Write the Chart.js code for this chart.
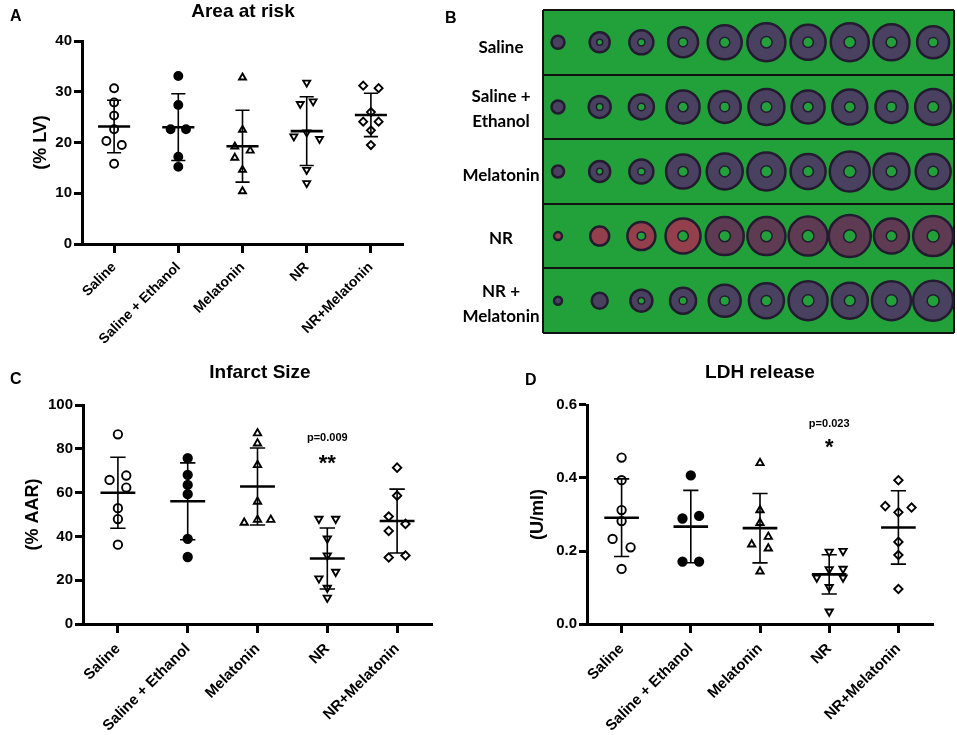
<!DOCTYPE html>
<html>
<head>
<title>Area at risk, infarct size and LDH release</title>
<script src="https://cdn.jsdelivr.net/npm/chart.js"></script>
<style>
  body { margin: 0; background: #fff; font-family: "Liberation Sans", Arial, sans-serif; }
  #page { position: relative; width: 957px; height: 735px; overflow: hidden; }
  .abs { position: absolute; color: #000; z-index: 2; }
  .letter { font-weight: bold; font-size: 16px; line-height: 16px; }
  .title { font-weight: bold; font-size: 19px; line-height: 19px; text-align: center; width: 240px; }
  .rowlab { font-family: Lato, "Liberation Sans", sans-serif; font-weight: bold; font-size: 17px;
            line-height: 25px; text-align: center; width: 96px; left: 453px; }
  canvas { position: absolute; }
</style>
</head>
<body>
<div id="page">
  <div class="abs letter" style="left:10px;top:8px">A</div>
  <div class="abs letter" style="left:445px;top:10px">B</div>
  <div class="abs letter" style="left:10px;top:371px">C</div>
  <div class="abs letter" style="left:525px;top:372px">D</div>

  <div class="abs title" style="left:123px;top:1px">Area at risk</div>
  <div class="abs title" style="left:140px;top:362px">Infarct Size</div>
  <div class="abs title" style="left:640px;top:362px">LDH release</div>

  <div class="abs rowlab" style="top:34px">Saline</div>
  <div class="abs rowlab" style="top:83px">Saline +<br>Ethanol</div>
  <div class="abs rowlab" style="top:162px">Melatonin</div>
  <div class="abs rowlab" style="top:225px">NR</div>
  <div class="abs rowlab" style="top:278px">NR +<br>Melatonin</div>

  <canvas id="chartA" width="420" height="350" style="left:0;top:0"></canvas>
  <canvas id="chartB" width="413" height="325" style="left:542px;top:9px"></canvas>
  <canvas id="chartC" width="450" height="375" style="left:0;top:360px"></canvas>
  <canvas id="chartD" width="450" height="375" style="left:500px;top:360px"></canvas>
</div>

<script>
  // ---------------- data ----------------
  var groups = ["Saline", "Saline + Ethanol", "Melatonin", "NR", "NR+Melatonin"];

  // A - area at risk (% LV)
  var aarSaline = [30.7, 27.9, 25.3, 22.6, 20.3, 19.5, 15.8];
  var aarSalineEth = [33.1, 27.4, 22.6, 22.6, 17.2, 15.2];
  var aarMel = [32.8, 22.5, 19.2, 18.4, 17.0, 14.6, 10.4];
  var aarNR = [31.8, 27.6, 28.1, 22.0, 21.2, 20.7, 14.6, 12.0];
  var aarNRMel = [31.2, 30.7, 26.0, 24.1, 24.1, 22.4, 19.5];
  // horizontal scatter of the dots, in category units
  var aarJitter = [
    [0, 0, 0, 0, -0.12, 0.12, 0],
    [0, 0, -0.12, 0.12, 0, 0],
    [0, 0, -0.12, 0.12, -0.12, 0, 0],
    [0, -0.1, 0.1, 0, -0.2, 0.2, 0, 0],
    [-0.12, 0.12, 0, -0.12, 0.12, 0, 0],
  ];

  // C - infarct size (% AAR)
  var isSaline = [86.6, 67.8, 65.8, 62.3, 52.9, 47.9, 36.2];
  var isSalineEth = [75.7, 68.1, 63.5, 59.3, 38.9, 30.6];
  var isMel = [87.1, 82.5, 72.6, 55.9, 47.6, 46.3, 47.6];
  var isNR = [48.0, 48.0, 39.0, 31.3, 23.8, 20.8, 16.5, 12.0];
  var isNRMel = [71.4, 58.6, 49.1, 45.7, 42.5, 31.3, 30.4];
  var isJitter = [
    [0, 0.12, -0.12, 0.12, 0, 0, 0],
    [0, 0, 0, 0, 0, 0],
    [0, 0, 0, 0, 0, -0.19, 0.19],
    [-0.12, 0.12, 0, 0, 0.12, -0.12, 0, 0],
    [0, 0, -0.12, 0.12, -0.12, 0.12, -0.12],
  ];
  var isNotes = [
    { text: "p=0.009", y: 85, kind: "p" },
    { text: "**", y: 73, kind: "star" },
  ];

  // D - LDH release (U/ml)
  var ldhSaline = [0.456, 0.394, 0.312, 0.282, 0.233, 0.21, 0.151];
  var ldhSalineEth = [0.407, 0.289, 0.296, 0.171, 0.171];
  var ldhMel = [0.441, 0.312, 0.277, 0.239, 0.218, 0.207, 0.144];
  var ldhNR = [0.2, 0.198, 0.151, 0.15, 0.127, 0.127, 0.101, 0.034];
  var ldhNRMel = [0.394, 0.323, 0.319, 0.306, 0.225, 0.189, 0.096];
  var ldhJitter = [
    [0, 0, 0, 0, -0.13, 0.13, 0],
    [0, -0.12, 0.12, -0.12, 0.12],
    [0, 0, 0, 0.12, -0.12, 0.12, 0],
    [0.2, 0, 0.2, 0, -0.18, 0.2, 0, 0],
    [0, -0.19, 0.19, 0, 0, 0, 0],
  ];
  var ldhNotes = [
    { text: "p=0.023", y: 0.548, kind: "p" },
    { text: "*", y: 0.481, kind: "star" },
  ];

  // B - heart slices, 10 per row (radius of each slice as photographed)
  var sliceRows = ["Saline", "Saline + Ethanol", "Melatonin", "NR", "NR + Melatonin"];
  var sliceIndex = [1, 2, 3, 4, 5, 6, 7, 8, 9, 10];
  var sliceRadius = [
    [6.5, 10, 12, 15, 17, 19, 17.5, 19, 18, 16],
    [6.5, 11, 12.5, 16.5, 16, 18, 16.5, 17.5, 16, 18],
    [6, 10.5, 12, 17, 18, 19, 17.5, 20, 18, 17.5],
    [4, 9.5, 14, 17.5, 19, 19, 19.5, 21, 17.5, 20],
    [4, 8, 11, 13, 16, 17.5, 19.5, 18, 19.5, 20],
  ];

  // ---------------- shared dot-plot builder ----------------
  Chart.defaults.font.family = '"Liberation Sans", Arial, sans-serif';
  Chart.defaults.color = "#000";

  var markerStyles = [
    { pointStyle: "circle", rotation: 0, fill: "#fff" },
    { pointStyle: "circle", rotation: 0, fill: "#000" },
    { pointStyle: "triangle", rotation: 0, fill: "#fff" },
    { pointStyle: "triangle", rotation: 180, fill: "#fff" },
    { pointStyle: "rectRot", rotation: 0, fill: "#fff" },
  ];

  function meanSd(vals) {
    var m = vals.reduce((a, b) => a + b, 0) / vals.length;
    var v = vals.reduce((a, b) => a + (b - m) * (b - m), 0) / (vals.length - 1);
    return { mean: m, sd: Math.sqrt(v) };
  }

  var meanSdPlugin = {
    id: "meanSd",
    afterDatasetsDraw: function (chart) {
      var ctx = chart.ctx,
        xs = chart.scales.x,
        ys = chart.scales.y;
      ctx.save();
      ctx.strokeStyle = "#000";
      chart.options.plugins.meanSd.series.forEach(function (vals, i) {
        var s = meanSd(vals);
        var cx = xs.getPixelForValue(i);
        var half = xs.getPixelForValue(i + 0.25) - cx;
        var cap = xs.getPixelForValue(i + 0.11) - cx;
        var yHi = ys.getPixelForValue(s.mean + s.sd);
        var yLo = ys.getPixelForValue(s.mean - s.sd);
        var yM = ys.getPixelForValue(s.mean);
        ctx.lineWidth = 1.6;
        ctx.beginPath();
        ctx.moveTo(cx, yHi); ctx.lineTo(cx, yLo);
        ctx.moveTo(cx - cap, yHi); ctx.lineTo(cx + cap, yHi);
        ctx.moveTo(cx - cap, yLo); ctx.lineTo(cx + cap, yLo);
        ctx.stroke();
        ctx.lineWidth = 2.6;
        ctx.beginPath();
        ctx.moveTo(cx - half, yM); ctx.lineTo(cx + half, yM);
        ctx.stroke();
      });
      var notes = chart.options.plugins.meanSd.notes || [];
      notes.forEach(function (n) {
        ctx.font = n.kind == "p" ? "bold 11px 'Liberation Sans', Arial" : "bold 22px 'Liberation Sans', Arial";
        ctx.fillStyle = "#000";
        ctx.textAlign = "center";
        ctx.textBaseline = "middle";
        ctx.fillText(n.text, xs.getPixelForValue(3), ys.getPixelForValue(n.y));
      });
      ctx.restore();
    },
  };

  function dotPlot(id, series, jitter, o) {
    var datasets = series.map(function (vals, i) {
      var st = markerStyles[i];
      return {
        data: vals.map((v, j) => ({ x: i + jitter[i][j], y: v })),
        pointStyle: st.pointStyle,
        rotation: st.rotation,
        backgroundColor: st.fill,
        borderColor: "#000",
        borderWidth: 1.9,
        pointRadius: o.radius,
      };
    });
    return new Chart(document.getElementById(id), {
      type: "scatter",
      data: { datasets: datasets },
      options: {
        responsive: false,
        animation: false,
        events: [],
        layout: { autoPadding: false, padding: { top: o.top, right: o.right, left: 0, bottom: 0 } },
        plugins: {
          legend: { display: false },
          tooltip: { enabled: false },
          meanSd: { series: series, notes: o.notes },
        },
        scales: {
          x: {
            type: "linear",
            min: -0.5,
            max: 4.5,
            afterBuildTicks: function (s) {
              s.ticks = groups.map((g, i) => ({ value: i }));
            },
            afterFit: function (s) { s.height = o.xHeight; },
            ticks: {
              autoSkip: false,
              maxRotation: 45,
              minRotation: 45,
              padding: o.xPad,
              font: { size: o.xFont, weight: "bold" },
              callback: (v) => groups[v],
            },
            grid: { drawOnChartArea: false, tickLength: 9, tickWidth: 3, tickColor: "#000" },
            border: { width: 3, color: "#000" },
          },
          y: {
            min: 0,
            max: o.yMax,
            afterBuildTicks: function (s) {
              var t = [];
              for (var k = 0; k <= o.yMax / o.yStep + 1e-9; k++) t.push({ value: k * o.yStep });
              s.ticks = t;
            },
            afterFit: function (s) { s.width = o.yWidth; },
            ticks: {
              padding: 2,
              font: { size: 15, weight: "bold" },
              callback: (v) => (o.decimals ? v.toFixed(o.decimals) : v),
            },
            grid: { drawOnChartArea: false, tickLength: 8, tickWidth: 3, tickColor: "#000" },
            border: { width: 3, color: "#000" },
            title: {
              display: true,
              text: o.yTitle,
              font: { size: 18, weight: "bold" },
              padding: { top: o.titlePad, bottom: 0 },
            },
          },
        },
      },
      plugins: [meanSdPlugin],
    });
  }

  dotPlot("chartA", [aarSaline, aarSalineEth, aarMel, aarNR, aarNRMel], aarJitter, {
    top: 41, right: 17, xHeight: 106, yWidth: 82, yMax: 40, yStep: 10, xPad: 6,
    yTitle: "(% LV)", titlePad: 30, xFont: 14, radius: 4, notes: [],
  });

  dotPlot("chartC", [isSaline, isSalineEth, isMel, isNR, isNRMel], isJitter, {
    top: 45, right: 18, xHeight: 111, yWidth: 83, yMax: 100, yStep: 20, xPad: 7,
    yTitle: "(% AAR)", titlePad: 22, xFont: 15, radius: 4.2, notes: isNotes,
  });

  dotPlot("chartD", [ldhSaline, ldhSalineEth, ldhMel, ldhNR, ldhNRMel], ldhJitter, {
    top: 45, right: 17, xHeight: 111, yWidth: 87, yMax: 0.6, yStep: 0.2, decimals: 1, xPad: 7,
    yTitle: "(U/ml)", titlePad: 27, xFont: 15, radius: 4.2, notes: ldhNotes,
  });

  // ---------------- B: photo of slices, drawn as ring markers ----------------
  var green = "#22a03a";
  var sliceSets = [];
  sliceRows.forEach(function (row, r) {
    var red = row == "NR";
    // tissue
    sliceSets.push({
      order: 2,
      data: sliceIndex.map((s) => ({ x: s, y: r + 1 })),
      pointRadius: sliceRadius[r],
      backgroundColor: sliceIndex.map((s) => (red && s < 5 ? "#93404c" : red ? "#5e3b53" : "#4a4160")),
      borderColor: "#231b30",
      borderWidth: 2.5,
    });
    // lumen, drawn on top of the tissue
    sliceSets.push({
      order: 1,
      data: sliceIndex.map((s) => ({ x: s, y: r + 1 })),
      pointRadius: sliceRadius[r].map((rad) => (rad >= 10 ? rad * 0.3 : 0)),
      backgroundColor: green,
      borderColor: "#231b30",
      borderWidth: 1.5,
    });
  });

  new Chart(document.getElementById("chartB"), {
    type: "scatter",
    data: { datasets: sliceSets },
    options: {
      responsive: false,
      animation: false,
      events: [],
      layout: { autoPadding: false, padding: 1 },
      plugins: { legend: { display: false }, tooltip: { enabled: false } },
      scales: {
        x: {
          min: 0.64,
          max: 10.5,
          afterBuildTicks: (s) => { s.ticks = [{ value: 0.64 }, { value: 10.5 }]; },
          ticks: { display: false },
          grid: { drawTicks: false, color: "#111", lineWidth: 2 },
          border: { display: false },
        },
        y: {
          min: 0.5,
          max: 5.5,
          reverse: true,
          afterBuildTicks: (s) => { s.ticks = [0.5, 1.5, 2.5, 3.5, 4.5, 5.5].map((v) => ({ value: v })); },
          ticks: { display: false },
          grid: { drawTicks: false, color: "#111", lineWidth: 2 },
          border: { display: false },
        },
      },
    },
    plugins: [
      {
        id: "greenBoard",
        beforeDraw: function (chart) {
          var a = chart.chartArea;
          chart.ctx.save();
          chart.ctx.fillStyle = green;
          chart.ctx.fillRect(a.left, a.top, a.right - a.left, a.bottom - a.top);
          chart.ctx.restore();
        },
      },
    ],
  });
</script>
</body>
</html>
